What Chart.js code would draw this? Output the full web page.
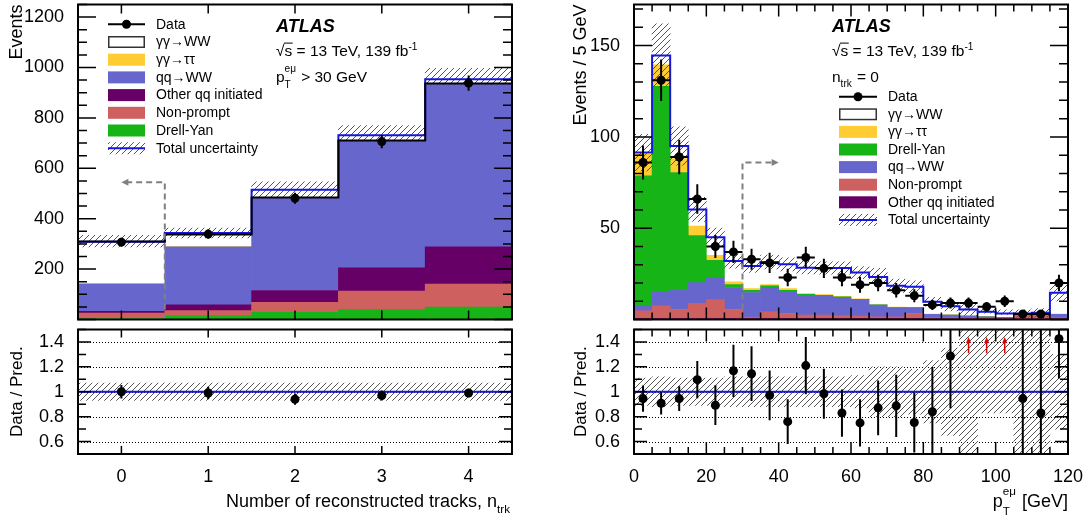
<!DOCTYPE html>
<html lang="en">
<head>
<meta charset="utf-8">
<title>γγ→WW control distributions</title>
<script src="https://cdn.jsdelivr.net/npm/chart.js@4.4.1/dist/chart.umd.min.js"></script>
<style>
  html, body { margin: 0; padding: 0; background: #fff; }
  #plots { position: relative; width: 1088px; height: 516px; overflow: hidden; }
  #plots canvas { position: absolute; }
</style>
</head>
<body>
<div id="plots">
  <canvas id="ntrkMain" width="520" height="324" style="left:0px;top:0px"></canvas>
  <canvas id="ntrkRatio" width="520" height="191" style="left:0px;top:325px"></canvas>
  <canvas id="ptMain" width="528" height="324" style="left:560px;top:0px"></canvas>
  <canvas id="ptRatio" width="528" height="191" style="left:560px;top:325px"></canvas>
</div>
<script>
const FONT = '"Liberation Sans", Arial, Helvetica, sans-serif';
Chart.defaults.font.family = FONT;
Chart.defaults.color = '#000';

// ---- n_trk distribution, pT(eμ) > 30 GeV ----
const ntrkBins = ['0', '1', '2', '3', '4'];
const ntrkEdges = [-0.5, 0.5, 1.5, 2.5, 3.5, 4.5];
const ntrkData = [307, 339, 481, 706, 938];
const ntrkDataErr = [17.5, 18.4, 21.9, 26.6, 30.6];
const ntrkDrellYan = [4, 15, 28, 39, 49];
const ntrkNonPrompt = [21, 20, 40, 74, 92];
const ntrkOtherQQ = [7, 23, 47, 92, 147];
const ntrkQQWW = [109, 230, 367, 503, 647];
const ntrkGGTauTau = [3, 1, 0, 0, 0];
const ntrkGGWW = [166, 48, 2, 2, 2];
const ntrkTotal = [309, 343, 515, 731, 953];
const ntrkUncLow = [288, 324, 481, 708, 931];
const ntrkUncHigh = [334, 363, 546, 770, 997];
const ntrkRatio = [1.00, 0.99, 0.94, 0.97, 0.99];
const ntrkRatioErr = [0.055, 0.05, 0.045, 0.04, 0.035];
const ntrkRatioUnc = [0.07, 0.07, 0.07, 0.07, 0.07];
const ntrkEventTicks = [200, 400, 600, 800, 1000, 1200];

// ---- pT(eμ) distribution, n_trk = 0, 5 GeV bins ----
const ptEdges = [0, 5, 10, 15, 20, 25, 30, 35, 40, 45, 50, 55, 60, 65, 70, 75, 80, 85, 90, 95, 100, 105, 110, 115, 120];
const ptData = [86, 131, 89, 66, 40, 37, 33, 31, 23, 34, 28, 23, 19, 20, 16, 13, 8, 9, 9, 7, 10, 3, 3, 20];
const ptDataErr = [9.3, 11.4, 9.4, 8.1, 6.3, 6.1, 5.7, 5.6, 4.8, 5.8, 5.3, 4.8, 4.4, 4.5, 4.0, 3.6, 2.8, 3.0, 3.0, 2.6, 3.2, 1.7, 1.7, 4.5];
const ptOtherQQ = [0.5, 0.5, 0.5, 0.5, 0.5, 0.5, 0.5, 0.5, 0.5, 0.5, 0.5, 0.5, 0.5, 0.5, 0.5, 0.5, 0.3, 0.3, 0.3, 0.3, 0.3, 0.3, 0.3, 0.3];
const ptNonPrompt = [4.3, 7.0, 5.0, 8.3, 10.4, 5.0, 0.8, 3.7, 2.8, 1.9, 1.9, 1.5, 1.4, 1.0, 1.0, 2.8, 0.7, 0.6, 0.5, 0.4, 0.3, 2.0, 2.0, 0.7];
const ptQQWW = [3.0, 7.6, 10.5, 11.4, 11.9, 12.0, 13.5, 13.1, 11.8, 10.9, 10.6, 10.2, 9.0, 6.4, 4.9, 3.1, 1.8, 1.5, 1.1, 0.8, 0.6, 0.4, 0.5, 1.8];
const ptDrellYan = [70.9, 112.6, 64.5, 25.8, 9.6, 1.6, 1.2, 1.1, 0.9, 0.5, 0.3, 0.2, 0.2, 0.1, 0.1, 0.1, 0, 0, 0, 0, 0, 0, 0, 0];
const ptGGTauTau = [11.8, 11.8, 7.6, 5.1, 2.7, 1.5, 0.9, 0.7, 0.9, 0.4, 0.3, 0.3, 0.2, 0.1, 0.3, 0.1, 0.1, 0.1, 0.1, 0.1, 0, 0, 0, 0.1];
const ptGGWW = [0.9, 5.1, 6.9, 9.2, 10.0, 11.4, 12.4, 12.4, 13.3, 14.2, 14.6, 15.5, 14.4, 15.2, 11.7, 11.4, 6.8, 4.7, 3.5, 2.6, 2.1, 0.6, 0.9, 11.7];
const ptTotal = [91.4, 144.6, 95.0, 60.3, 45.1, 32.0, 29.3, 31.5, 30.2, 28.4, 28.2, 28.2, 25.7, 23.3, 18.5, 18.0, 9.7, 7.2, 5.5, 4.2, 3.3, 3.3, 3.7, 14.6];
const ptUncUp = [0.11, 0.12, 0.11, 0.11, 0.11, 0.12, 0.12, 0.12, 0.12, 0.12, 0.12, 0.12, 0.13, 0.20, 0.20, 0.18, 0.25, 0.35, 0.60, 0.60, 0.60, 0.60, 0.60, 0.30];
const ptUncDown = [0.11, 0.12, 0.11, 0.11, 0.11, 0.12, 0.12, 0.12, 0.12, 0.12, 0.12, 0.12, 0.13, 0.20, 0.20, 0.18, 0.25, 0.35, 0.60, 0.17, 0.17, 0.60, 0.60, 0.30];
const ptRatio = [0.945, 0.908, 0.945, 1.097, 0.892, 1.168, 1.145, 0.971, 0.760, 1.210, 0.984, 0.829, 0.750, 0.871, 0.887, 0.753, 0.839, 1.287, 1.64, 1.67, 3.0, 0.945, 0.829, 1.426];
const ptRatioErr = [0.105, 0.09, 0.10, 0.15, 0.16, 0.21, 0.22, 0.20, 0.18, 0.23, 0.20, 0.19, 0.19, 0.22, 0.25, 0.24, 0.36, 0.42, 0.55, 0.62, 0.95, 1.0, 1.0, 0.32];
const ptTicks = [0, 20, 40, 60, 80, 100, 120];
const ptEventTicks = [50, 100, 150];

const ratioTicks = [0.6, 0.8, 1, 1.2, 1.4];

const COLORS = {
  ggWW: '#ffffff',
  ggTauTau: '#ffcc33',
  drellYan: '#16b416',
  qqWW: '#6666cc',
  nonPrompt: '#cf6060',
  otherQQ: '#660066',
  total: '#1616dc',
  hatch: '#555555',
  cut: '#808080',
  arrow: '#e00000'
};

function hatchPattern(ctx) {
  const tile = document.createElement('canvas');
  tile.width = 6;
  tile.height = 6;
  const g = tile.getContext('2d');
  g.strokeStyle = COLORS.hatch;
  g.lineWidth = 1;
  g.beginPath();
  g.moveTo(-1, 7); g.lineTo(7, -1);
  g.moveTo(-1, 1); g.lineTo(1, -1);
  g.moveTo(5, 7); g.lineTo(7, 5);
  g.stroke();
  return ctx.createPattern(tile, 'repeat');
}

// histogram outline: one point per lower edge, plus the last upper edge
function stepPoints(edges, values) {
  const pts = values.map((v, i) => ({ x: edges[i], y: v }));
  pts.push({ x: edges[edges.length - 1], y: values[values.length - 1] });
  return pts;
}

// ---------- dataset builders ----------
function dataPoints(values, errY, errX, extra) {
  return Object.assign({
    type: 'line', label: 'Data', data: values, errY, errX,
    showLine: false, pointRadius: 4.5, pointBackgroundColor: '#000', pointBorderWidth: 0,
    xAxisID: 'x', yAxisID: 'yo'
  }, extra || {});
}
function stepLine(label, edges, values, color, yAxisID) {
  return {
    type: 'line', label, data: stepPoints(edges, values), stepped: true,
    borderColor: color, borderWidth: 2, pointRadius: 0, fill: false,
    xAxisID: 'xl', yAxisID
  };
}
function stackBar(label, values, color) {
  return {
    type: 'bar', label, data: values, backgroundColor: color, borderWidth: 0,
    stack: 'mc', grouped: false, barPercentage: 1, categoryPercentage: 1,
    xAxisID: 'x', yAxisID: 'y'
  };
}
function bandBar(lows, highs, pattern, yAxisID) {
  return {
    type: 'bar', label: 'Total uncertainty', data: lows.map((lo, i) => [lo, highs[i]]),
    backgroundColor: pattern, borderWidth: 0, grouped: false,
    barPercentage: 1, categoryPercentage: 1, clip: 0,
    xAxisID: 'x', yAxisID
  };
}

// ---------- axis builders ----------
function valueAxis(o) {
  return {
    type: 'linear', position: 'left', min: o.min, max: o.max, stacked: !!o.stacked,
    grid: { display: false }, border: { display: false },
    afterBuildTicks: s => { s.ticks = o.ticks.map(v => ({ value: v })); },
    afterFit: s => { s.width = o.width; s.paddingTop = 0; s.paddingBottom = 0; },
    ticks: { padding: 6, autoSkip: false, color: '#000', font: { size: 18 }, callback: v => String(v) },
    title: {
      display: true, text: o.title, align: o.align, color: '#000',
      font: { size: o.titleSize }, padding: { top: o.titlePad, bottom: 0 }
    }
  };
}
function hiddenLinear(min, max) {
  return { type: 'linear', min, max, offset: false, display: false };
}
function binAxis(show) {
  const axis = {
    type: 'category', offset: true, display: show,
    grid: { display: false }, border: { display: false },
    ticks: { padding: 4, autoSkip: false, maxRotation: 0, color: '#000', font: { size: 18 } }
  };
  if (show) axis.afterFit = s => { s.height = 62; s.paddingLeft = 0; s.paddingRight = 0; };
  return axis;
}
function gevAxis(min, max, ticks) {
  return {
    type: 'linear', min, max, offset: false, position: 'bottom',
    grid: { display: false }, border: { display: false },
    afterBuildTicks: s => { s.ticks = ticks.map(v => ({ value: v })); },
    afterFit: s => { s.height = 62; s.paddingLeft = 0; s.paddingRight = 0; },
    ticks: { padding: 4, autoSkip: false, maxRotation: 0, color: '#000', font: { size: 18 }, callback: v => String(v) }
  };
}
function baseOptions(padding, scales) {
  return {
    responsive: false, animation: false, devicePixelRatio: 1, events: [],
    layout: { padding },
    plugins: { legend: { display: false }, tooltip: { enabled: false } },
    scales
  };
}

// ---------- ROOT-style decorations (frame, ticks, legend, labels) ----------
const decor = {
  ntrkMain: {
    frame: { yAxis: 'yo', xMajor: 1, xMinor: 0, xLen: [9, 0], yMajor: 200, yMinor: 50, yLen: [18, 9] },
    cut: { yAxis: 'yo', x: 0.5, y: 545, to: 0 },
    legend: {
      x: 108, y: 24.3, dy: 17.7, w: 37, h: 12, textX: 156, size: 14,
      items: [
        { label: 'Data', kind: 'data' },
        { label: 'γγ→WW', color: COLORS.ggWW, outline: '#333' },
        { label: 'γγ→ττ', color: COLORS.ggTauTau },
        { label: 'qq→WW', color: COLORS.qqWW },
        { label: 'Other qq initiated', color: COLORS.otherQQ },
        { label: 'Non-prompt', color: COLORS.nonPrompt },
        { label: 'Drell-Yan', color: COLORS.drellYan },
        { label: 'Total uncertainty', kind: 'hatch', color: COLORS.total }
      ]
    },
    labels: [
      { x: 276, y: 31.5, size: 18, style: 'italic bold', parts: ['ATLAS'] },
      { x: 276, y: 55.5, size: 15.5, parts: [{ sqrt: 's' }, ' = 13 TeV, 139 fb', { sup: '-1' }] },
      { x: 276, y: 81.5, size: 15.5, parts: ['p', { sub: 'T', sup: 'eμ' }, ' > 30 GeV'] }
    ]
  },
  ntrkRatio: {
    grid: ratioTicks,
    frame: { yAxis: 'y', xMajor: 1, xMinor: 0, xLen: [8, 0], yMajor: 0.2, yMinor: 0.1, yLen: [13, 8] },
    labels: [
      { x: 511, y: 181.5, size: 18, align: 'right', parts: ['Number of reconstructed tracks, n', { sub: 'trk' }] }
    ]
  },
  ptMain: {
    frame: { yAxis: 'yo', xMajor: 20, xMinor: 5, xLen: [12, 7], yMajor: 50, yMinor: 10, yLen: [18, 9] },
    cut: { yAxis: 'yo', x: 30, y: 86, to: 40 },
    legend: {
      x: 279, y: 96.7, dy: 17.6, w: 38, h: 12, textX: 328, size: 14,
      items: [
        { label: 'Data', kind: 'data' },
        { label: 'γγ→WW', color: COLORS.ggWW, outline: '#333' },
        { label: 'γγ→ττ', color: COLORS.ggTauTau },
        { label: 'Drell-Yan', color: COLORS.drellYan },
        { label: 'qq→WW', color: COLORS.qqWW },
        { label: 'Non-prompt', color: COLORS.nonPrompt },
        { label: 'Other qq initiated', color: COLORS.otherQQ },
        { label: 'Total uncertainty', kind: 'hatch', color: COLORS.total }
      ]
    },
    labels: [
      { x: 272, y: 31.5, size: 18, style: 'italic bold', parts: ['ATLAS'] },
      { x: 272, y: 55.5, size: 15.5, parts: [{ sqrt: 's' }, ' = 13 TeV, 139 fb', { sup: '-1' }] },
      { x: 272, y: 81.5, size: 15.5, parts: ['n', { sub: 'trk' }, ' = 0'] }
    ]
  },
  ptRatio: {
    grid: ratioTicks,
    frame: { yAxis: 'y', xMajor: 20, xMinor: 5, xLen: [12, 7], yMajor: 0.2, yMinor: 0.1, yLen: [13, 8] },
    labels: [
      { x: 508, y: 181.5, size: 18, align: 'right', parts: ['p', { sub: 'T', sup: 'eμ' }, ' [GeV]'] }
    ]
  }
};

function tickValues(min, max, step) {
  const out = [];
  if (!step) return out;
  for (let k = Math.ceil(min / step - 1e-6); k * step <= max + 1e-6; k++) out.push(k * step);
  return out;
}

function drawFrame(chart, f) {
  const { ctx, chartArea: a } = chart;
  const xs = chart.scales.xl, ys = chart.scales[f.yAxis];
  ctx.save();
  ctx.strokeStyle = '#000';
  ctx.lineWidth = 1.5;
  ctx.beginPath();
  [[f.xMajor, f.xLen[0]], [f.xMinor, f.xLen[1]]].forEach(([step, len]) => {
    tickValues(xs.min, xs.max, step).forEach(v => {
      const px = xs.getPixelForValue(v);
      ctx.moveTo(px, a.bottom); ctx.lineTo(px, a.bottom - len);
      ctx.moveTo(px, a.top); ctx.lineTo(px, a.top + len);
    });
  });
  [[f.yMajor, f.yLen[0]], [f.yMinor, f.yLen[1]]].forEach(([step, len]) => {
    tickValues(ys.min, ys.max, step).forEach(v => {
      const py = ys.getPixelForValue(v);
      ctx.moveTo(a.left, py); ctx.lineTo(a.left + len, py);
      ctx.moveTo(a.right, py); ctx.lineTo(a.right - len, py);
    });
  });
  ctx.stroke();
  ctx.lineWidth = 2;
  ctx.strokeRect(a.left, a.top, a.right - a.left, a.bottom - a.top);
  ctx.restore();
}

function drawGrid(chart, values) {
  const { ctx, chartArea: a } = chart;
  const ys = chart.scales.y;
  ctx.save();
  ctx.strokeStyle = '#000';
  ctx.lineWidth = 1;
  ctx.setLineDash([1, 2]);
  ctx.beginPath();
  values.forEach(v => {
    const py = Math.round(ys.getPixelForValue(v)) + 0.5;
    ctx.moveTo(a.left, py); ctx.lineTo(a.right, py);
  });
  ctx.stroke();
  ctx.restore();
}

function drawUpArrow(ctx, x, yFrom, yTo) {
  ctx.save();
  ctx.strokeStyle = COLORS.arrow;
  ctx.fillStyle = COLORS.arrow;
  ctx.lineWidth = 1.5;
  ctx.beginPath();
  ctx.moveTo(x, yFrom); ctx.lineTo(x, yTo + 4);
  ctx.stroke();
  ctx.beginPath();
  ctx.moveTo(x, yTo); ctx.lineTo(x - 2.5, yTo + 6); ctx.lineTo(x + 2.5, yTo + 6);
  ctx.closePath();
  ctx.fill();
  ctx.restore();
}

function drawErrorBars(chart) {
  const { ctx, chartArea: a } = chart;
  ctx.save();
  ctx.beginPath();
  ctx.rect(a.left, a.top, a.right - a.left, a.bottom - a.top);
  ctx.clip();
  chart.data.datasets.forEach((ds, di) => {
    if (!ds.errY) return;
    const meta = chart.getDatasetMeta(di);
    const xs = chart.scales[meta.xAxisID], ys = chart.scales[meta.yAxisID];
    const half = ds.errX ? Math.abs(xs.getPixelForValue(1) - xs.getPixelForValue(0)) / 2 : 0;
    ds.data.forEach((v, i) => {
      const x = xs.getPixelForValue(i);
      if (v > ys.max) {
        // off-scale ratio: red arrow instead of a marker
        if (ds.overflow) drawUpArrow(ctx, x, ys.getPixelForValue(ds.overflow[0]), ys.getPixelForValue(ds.overflow[1]));
        return;
      }
      const y = ys.getPixelForValue(v);
      ctx.strokeStyle = '#000';
      ctx.lineWidth = 2;
      ctx.beginPath();
      ctx.moveTo(x, ys.getPixelForValue(v - ds.errY[i]));
      ctx.lineTo(x, ys.getPixelForValue(v + ds.errY[i]));
      if (half) { ctx.moveTo(x - half, y); ctx.lineTo(x + half, y); }
      ctx.stroke();
    });
  });
  ctx.restore();
}

function drawCut(chart, c) {
  const { ctx } = chart;
  const xs = chart.scales.xl, ys = chart.scales[c.yAxis];
  const x0 = xs.getPixelForValue(c.x), x1 = xs.getPixelForValue(c.to);
  const yb = ys.getPixelForValue(ys.min), yt = ys.getPixelForValue(c.y);
  const dir = Math.sign(x1 - x0);
  ctx.save();
  ctx.strokeStyle = COLORS.cut;
  ctx.fillStyle = COLORS.cut;
  ctx.lineWidth = 2;
  ctx.setLineDash([6, 4]);
  ctx.beginPath();
  ctx.moveTo(x0, yb); ctx.lineTo(x0, yt); ctx.lineTo(x1 - dir * 6, yt);
  ctx.stroke();
  ctx.setLineDash([]);
  ctx.beginPath();
  ctx.moveTo(x1, yt); ctx.lineTo(x1 - dir * 7, yt - 3.5); ctx.lineTo(x1 - dir * 7, yt + 3.5);
  ctx.closePath();
  ctx.fill();
  ctx.restore();
}

function drawLegend(chart, lg, hatch) {
  const { ctx } = chart;
  ctx.save();
  ctx.textBaseline = 'middle';
  ctx.font = `${lg.size}px ${FONT}`;
  lg.items.forEach((it, i) => {
    const cy = lg.y + i * lg.dy;
    const top = cy - lg.h / 2;
    if (it.kind === 'data') {
      ctx.strokeStyle = '#000';
      ctx.lineWidth = 2;
      ctx.beginPath(); ctx.moveTo(lg.x, cy); ctx.lineTo(lg.x + lg.w, cy); ctx.stroke();
      ctx.fillStyle = '#000';
      ctx.beginPath(); ctx.arc(lg.x + lg.w / 2, cy, 4.5, 0, Math.PI * 2); ctx.fill();
    } else if (it.kind === 'hatch') {
      ctx.fillStyle = hatch;
      ctx.fillRect(lg.x, top, lg.w, lg.h);
      ctx.strokeStyle = it.color;
      ctx.lineWidth = 2;
      ctx.beginPath(); ctx.moveTo(lg.x, cy); ctx.lineTo(lg.x + lg.w, cy); ctx.stroke();
    } else {
      ctx.fillStyle = it.color;
      ctx.fillRect(lg.x, top, lg.w, lg.h);
      if (it.outline) {
        ctx.strokeStyle = it.outline;
        ctx.lineWidth = 1.5;
        ctx.strokeRect(lg.x + 0.75, top + 0.75, lg.w - 1.5, lg.h - 1.5);
      }
    }
    ctx.fillStyle = '#000';
    ctx.fillText(it.label, lg.textX, cy + 0.5);
  });
  ctx.restore();
}

// text with ROOT-like sub/superscripts and a square root
function richRun(ctx, lab, x0, draw) {
  const size = lab.size, y = lab.y;
  const mainFont = `${lab.style || ''} ${size}px ${FONT}`.trim();
  const smallFont = `${(size * 0.65).toFixed(1)}px ${FONT}`;
  let cx = x0;
  lab.parts.forEach(p => {
    if (typeof p === 'string') {
      ctx.font = mainFont;
      if (draw) ctx.fillText(p, cx, y);
      cx += ctx.measureText(p).width;
    } else if (p.sqrt) {
      ctx.font = mainFont;
      const rw = ctx.measureText('√').width;
      const sw = ctx.measureText(p.sqrt).width;
      if (draw) {
        ctx.fillText('√', cx, y);
        ctx.fillText(p.sqrt, cx + rw, y);
        ctx.lineWidth = 1;
        ctx.beginPath();
        ctx.moveTo(cx + rw - 0.5, y - size * 0.8);
        ctx.lineTo(cx + rw + sw + 0.5, y - size * 0.8);
        ctx.stroke();
      }
      cx += rw + sw;
    } else {
      ctx.font = smallFont;
      const both = p.sub && p.sup;
      let w = 0;
      if (p.sup) {
        if (draw) ctx.fillText(p.sup, cx, y - size * (both ? 0.62 : 0.38));
        w = Math.max(w, ctx.measureText(p.sup).width);
      }
      if (p.sub) {
        if (draw) ctx.fillText(p.sub, cx, y + size * (both ? 0.45 : 0.38));
        w = Math.max(w, ctx.measureText(p.sub).width);
      }
      cx += w + size * 0.05;
    }
  });
  return cx - x0;
}
function drawRich(ctx, lab) {
  ctx.save();
  ctx.fillStyle = '#000';
  ctx.strokeStyle = '#000';
  ctx.textAlign = 'left';
  ctx.textBaseline = 'alphabetic';
  let x = lab.x;
  if (lab.align === 'right') x -= richRun(ctx, lab, 0, false);
  richRun(ctx, lab, x, true);
  ctx.restore();
}

const decorPlugin = {
  id: 'rootDecor',
  beforeDatasetsDraw(chart) {
    const d = decor[chart.canvas.id];
    if (d && d.grid) drawGrid(chart, d.grid);
  },
  afterDatasetsDraw(chart) {
    const d = decor[chart.canvas.id];
    if (!d) return;
    drawErrorBars(chart);
    if (d.cut) drawCut(chart, d.cut);
    drawFrame(chart, d.frame);
    if (d.legend) drawLegend(chart, d.legend, d.hatch);
    (d.labels || []).forEach(l => drawRich(chart.ctx, l));
  }
};
Chart.register(decorPlugin);

// ---------- n_trk: main panel ----------
const ntrkMainCtx = document.getElementById('ntrkMain').getContext('2d');
decor.ntrkMain.hatch = hatchPattern(ntrkMainCtx);
const ntrkStackTop = ntrkBins.map((_, i) =>
  ntrkDrellYan[i] + ntrkNonPrompt[i] + ntrkOtherQQ[i] + ntrkQQWW[i] + ntrkGGTauTau[i] + ntrkGGWW[i]);

new Chart(ntrkMainCtx, {
  type: 'bar',
  data: {
    labels: ntrkBins,
    datasets: [
      dataPoints(ntrkData, ntrkDataErr, false),
      stepLine('Stack', ntrkEdges, ntrkStackTop, '#000', 'yo'),
      stepLine('Total', ntrkEdges, ntrkTotal, COLORS.total, 'yo'),
      bandBar(ntrkUncLow, ntrkUncHigh, decor.ntrkMain.hatch, 'yo'),
      stackBar('Drell-Yan', ntrkDrellYan, COLORS.drellYan),
      stackBar('Non-prompt', ntrkNonPrompt, COLORS.nonPrompt),
      stackBar('Other qq initiated', ntrkOtherQQ, COLORS.otherQQ),
      stackBar('qq→WW', ntrkQQWW, COLORS.qqWW),
      stackBar('γγ→ττ', ntrkGGTauTau, COLORS.ggTauTau),
      stackBar('γγ→WW', ntrkGGWW, COLORS.ggWW)
    ]
  },
  options: baseOptions({ left: 0, top: 4, right: 8, bottom: 3 }, {
    x: binAxis(false),
    xl: hiddenLinear(ntrkEdges[0], ntrkEdges[ntrkEdges.length - 1]),
    y: valueAxis({ min: 0, max: 1250, stacked: true, ticks: ntrkEventTicks, width: 78,
      title: 'Events', align: 'end', titleSize: 18, titlePad: 6 }),
    yo: hiddenLinear(0, 1250)
  })
});

// ---------- n_trk: ratio panel ----------
const ntrkRatioCtx = document.getElementById('ntrkRatio').getContext('2d');
new Chart(ntrkRatioCtx, {
  type: 'bar',
  data: {
    labels: ntrkBins,
    datasets: [
      dataPoints(ntrkRatio, ntrkRatioErr, false, { yAxisID: 'y' }),
      { type: 'line', label: 'Unity', data: [{ x: ntrkEdges[0], y: 1 }, { x: ntrkEdges[ntrkEdges.length - 1], y: 1 }],
        borderColor: COLORS.total, borderWidth: 2, pointRadius: 0, xAxisID: 'xl', yAxisID: 'y' },
      bandBar(ntrkRatioUnc.map(u => 1 - u), ntrkRatioUnc.map(u => 1 + u), hatchPattern(ntrkRatioCtx), 'y')
    ]
  },
  options: baseOptions({ left: 0, top: 2, right: 8, bottom: 0 }, {
    x: binAxis(true),
    xl: hiddenLinear(ntrkEdges[0], ntrkEdges[ntrkEdges.length - 1]),
    y: valueAxis({ min: 0.5, max: 1.5, ticks: ratioTicks, width: 78,
      title: 'Data / Pred.', align: 'center', titleSize: 17, titlePad: 7 })
  })
});

// ---------- pT(eμ): main panel ----------
const ptMainCtx = document.getElementById('ptMain').getContext('2d');
decor.ptMain.hatch = hatchPattern(ptMainCtx);
const ptBins = ptData.map((_, i) => `${ptEdges[i]}-${ptEdges[i + 1]}`);

new Chart(ptMainCtx, {
  type: 'bar',
  data: {
    labels: ptBins,
    datasets: [
      dataPoints(ptData, ptDataErr, true),
      stepLine('Total', ptEdges, ptTotal, COLORS.total, 'yo'),
      bandBar(ptTotal.map((t, i) => t * (1 - ptUncDown[i])), ptTotal.map((t, i) => t * (1 + ptUncUp[i])),
        decor.ptMain.hatch, 'yo'),
      stackBar('Other qq initiated', ptOtherQQ, COLORS.otherQQ),
      stackBar('Non-prompt', ptNonPrompt, COLORS.nonPrompt),
      stackBar('qq→WW', ptQQWW, COLORS.qqWW),
      stackBar('Drell-Yan', ptDrellYan, COLORS.drellYan),
      stackBar('γγ→ττ', ptGGTauTau, COLORS.ggTauTau),
      stackBar('γγ→WW', ptGGWW, COLORS.ggWW)
    ]
  },
  options: baseOptions({ left: 0, top: 4, right: 20, bottom: 3 }, {
    x: binAxis(false),
    xl: hiddenLinear(ptEdges[0], ptEdges[ptEdges.length - 1]),
    y: valueAxis({ min: 0, max: 172.5, stacked: true, ticks: ptEventTicks, width: 74,
      title: 'Events / 5 GeV', align: 'end', titleSize: 18, titlePad: 10 }),
    yo: hiddenLinear(0, 172.5)
  })
});

// ---------- pT(eμ): ratio panel ----------
const ptRatioCtx = document.getElementById('ptRatio').getContext('2d');
new Chart(ptRatioCtx, {
  type: 'bar',
  data: {
    labels: ptBins,
    datasets: [
      dataPoints(ptRatio, ptRatioErr, false, { yAxisID: 'y', overflow: [1.31, 1.44] }),
      { type: 'line', label: 'Unity', data: [{ x: ptEdges[0], y: 1 }, { x: ptEdges[ptEdges.length - 1], y: 1 }],
        borderColor: COLORS.total, borderWidth: 2, pointRadius: 0, xAxisID: 'xl', yAxisID: 'y' },
      bandBar(ptUncDown.map(u => 1 - u), ptUncUp.map(u => 1 + u), hatchPattern(ptRatioCtx), 'y')
    ]
  },
  options: baseOptions({ left: 0, top: 2, right: 20, bottom: 0 }, {
    x: binAxis(false),
    xl: gevAxis(ptEdges[0], ptEdges[ptEdges.length - 1], ptTicks),
    y: valueAxis({ min: 0.5, max: 1.5, ticks: ratioTicks, width: 74,
      title: 'Data / Pred.', align: 'center', titleSize: 17, titlePad: 11 })
  })
});
</script>
</body>
</html>
